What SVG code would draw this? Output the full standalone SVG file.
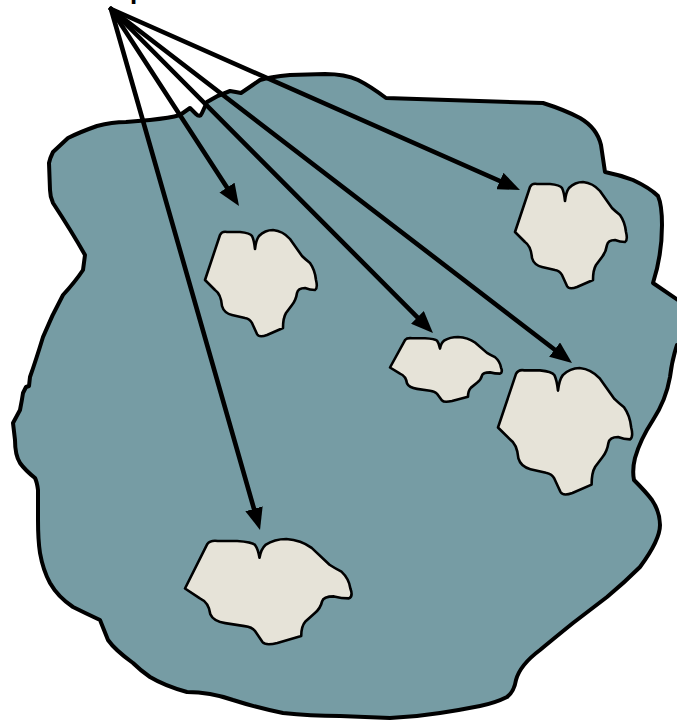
<svg xmlns="http://www.w3.org/2000/svg" xmlns:xlink="http://www.w3.org/1999/xlink" width="677" height="724" viewBox="0 0 677 724">
<style>
.blob{fill:#769ca4;stroke:#000;stroke-width:4;stroke-linejoin:round}
.rock{fill:#e6e3d8;stroke:#000;stroke-width:2.6;stroke-linejoin:round;vector-effect:non-scaling-stroke}
.arrow{stroke:#000;stroke-width:4.6;fill:none;stroke-linecap:round;marker-end:url(#ah)}
.lbl{font-family:"Liberation Sans",Arial,sans-serif;font-weight:bold;font-size:26px;fill:#000}
</style>
<defs>
<marker id="ah" viewBox="0 0 22 18" refX="11" refY="9" markerWidth="22" markerHeight="18" markerUnits="userSpaceOnUse" orient="auto">
<path d="M0,0 L22,9 L0,18 Z" fill="#000"/>
</marker>
<path id="rockShape" class="rock" d="M0,50 L15,5 Q17,1 22,2 L35,2 Q45,3 47,6 Q49,10 50,19 Q51,10 54,6 Q60,0 68,0 Q78,1 85,9 L97,26 Q100,29 105,33 Q110,40 111,50 Q113,58 110,60 Q105,60 100,58 Q93,58 92,63 Q91,70 87,75 L81,83 Q78,88 78,98 L62,105 Q54,108 52,104 L47,93 Q45,89 40,88 L27,85 Q19,83 17,76 Q16,64 10,60 Z"/>
</defs>
<text class="lbl" x="130" y="-1">p</text>
<g id="ground">
<path class="blob" d="M53,152 L68,138 Q80,132 97,126 Q112,122 126,122 L150,120 Q170,118 180,115 L190,108 L196,114 Q200,118 202,113 L207,102 Q218,95 230,91 Q236,92 241,93 L260,80 Q270,77 290,75 L325,74 Q345,74 358,80 Q370,86 386,98 L543,103 Q565,110 580,118 Q597,128 601,145 L605,172 Q620,175 633,180 Q650,188 658,196 Q662,205 662,225 Q662,255 653,283 L700,315 L700,345 L677,345 Q672,360 670,377 Q666,400 653,420 Q640,440 635,458 Q632,470 634,480 Q646,492 652,500 Q660,512 660,525 Q660,540 640,567 Q625,582 607,597 L573,623 Q552,640 540,650 Q520,665 516,680 Q514,692 507,697 Q495,703 480,706 Q460,710 440,713 Q415,717 390,718 L340,716 Q310,716 283,713 Q258,708 233,700 Q210,692 187,692 Q165,686 150,677 Q140,670 133,663 Q115,650 108,640 Q104,630 100,620 Q85,613 73,607 Q58,597 50,583 Q43,570 40,553 Q38,540 38,520 L38,490 Q37,482 35,478 Q25,470 20,463 Q15,455 15,440 L13,423 L20,410 Q22,400 23,393 L26,387 L29,386 L30,377 Q36,360 43,337 Q52,315 63,295 Q75,282 83,270 L85,255 Q72,232 53,203 Q50,196 50,190 L49,163 Q50,158 53,152 Z"/>
</g>
<g id="rock1"><use xlink:href="#rockShape" transform="translate(205,230)"/></g>
<g id="rock2"><use xlink:href="#rockShape" transform="translate(515,182)"/></g>
<g id="rock3"><use xlink:href="#rockShape" transform="translate(390,337) scale(1,0.61)"/></g>
<g id="rock4"><use xlink:href="#rockShape" transform="translate(498,368) scale(1.2,1.19)"/></g>
<g id="rock5"><use xlink:href="#rockShape" transform="translate(185,539) scale(1.49,0.99)"/></g>
<g id="connectors">
<line class="arrow" x1="111" y1="9" x2="233" y2="196.8"/>
<line class="arrow" x1="111" y1="9" x2="257" y2="519.4"/>
<line class="arrow" x1="111" y1="9" x2="425.2" y2="325.2"/>
<line class="arrow" x1="111" y1="9" x2="563.3" y2="356.3"/>
<line class="arrow" x1="111" y1="9" x2="509.9" y2="185.5"/>
</g>
</svg>
